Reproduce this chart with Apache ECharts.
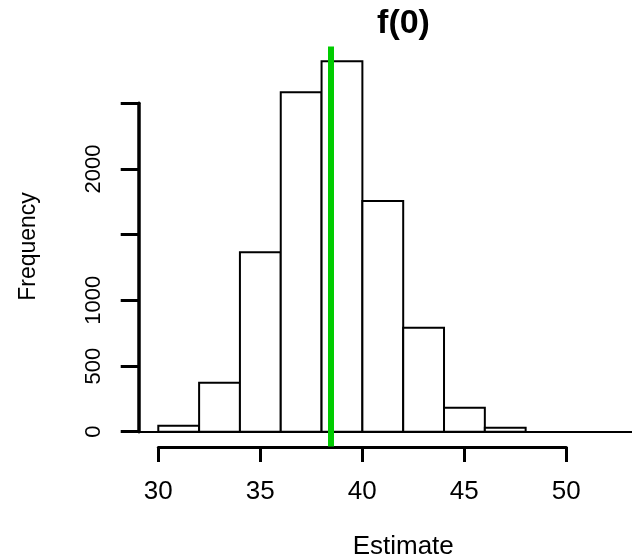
<!DOCTYPE html>
<html>
<head>
<meta charset="utf-8">
<script src="https://cdn.jsdelivr.net/npm/echarts@6/dist/echarts.min.js"></script>
<style>
html,body{margin:0;padding:0;background:#fff;}
#chart{width:632px;height:557px;}
</style>
</head>
<body>
<div id="chart"></div>
<script>
// ---- data ----
const binEdges = [30, 32, 34, 36, 38, 40, 42, 44, 46, 48];
const counts = [45, 373, 1366, 2584, 2820, 1757, 792, 183, 30];
const trueValue = 38.43;              // green vertical reference line
const xTicks = [30, 35, 40, 45, 50];
const yTicks = [0, 500, 1000, 1500, 2000, 2500];
const yTickLabels = ['0', '500', '1000', '', '2000', ''];
const xLimits = [30, 54];
const titleText = 'f(0)';
const xName = 'Estimate';
const yName = 'Frequency';

// histogram data for custom series
const histData = counts.map((c, i) => [binEdges[i], binEdges[i + 1], c]);

// R-style 4% axis extension
const xr = xLimits[1] - xLimits[0];
const xMin = xLimits[0] - 0.04 * xr, xMax = xLimits[1] + 0.04 * xr;
const yTop = Math.max(...counts);
const yMin = -0.04 * yTop, yMax = yTop * 1.04;

const FONT = 'Liberation Sans, Arial, sans-serif';
const chart = echarts.init(document.getElementById('chart'), null, {renderer: 'canvas'});

chart.setOption({
  animation: false,
  backgroundColor: '#fff',
  title: {
    text: titleText, left: 403.5, top: 7, textAlign: 'center', padding: 0,
    textStyle: {fontFamily: FONT, fontSize: 34, fontWeight: 'bold', color: '#000'}
  },
  grid: [
    {left: 138.7, top: 46.5, width: 529, height: 400, outerBoundsMode: 'none', containLabel: false},
    {left: 138.7, top: 103.35, width: 20, height: 328.35, outerBoundsMode: 'none', containLabel: false},
    {left: 158.3, top: 300, width: 408, height: 147, outerBoundsMode: 'none', containLabel: false}
  ],
  xAxis: [
    {gridIndex: 0, type: 'value', min: xMin, max: xMax,
     axisLine: {show: false}, axisTick: {show: false}, axisLabel: {show: false}, splitLine: {show: false},
     name: xName, nameLocation: 'middle', nameGap: 87,
     nameTextStyle: {fontFamily: FONT, fontSize: 26, color: '#000'}},
    {gridIndex: 1, type: 'value', show: false},
    {gridIndex: 2, type: 'value', min: xTicks[0], max: xTicks[xTicks.length - 1], interval: 5,
     axisLine: {show: true, lineStyle: {color: '#000', width: 3}},
     axisTick: {show: true, inside: false, length: 15, lineStyle: {color: '#000', width: 3}},
     axisLabel: {show: true, margin: 32, fontFamily: FONT, fontSize: 26, color: '#000'},
     splitLine: {show: false}}
  ],
  yAxis: [
    {gridIndex: 0, type: 'value', min: yMin, max: yMax,
     axisLine: {show: false}, axisTick: {show: false}, axisLabel: {show: false}, splitLine: {show: false},
     name: yName, nameLocation: 'middle', nameRotate: 90, nameGap: 99,
     nameTextStyle: {fontFamily: FONT, fontSize: 23, color: '#000'}},
    {gridIndex: 1, type: 'value', min: yTicks[0], max: yTicks[yTicks.length - 1], interval: 500,
     axisLine: {show: true, lineStyle: {color: '#000', width: 3.5}},
     axisTick: {show: true, inside: false, length: 18, lineStyle: {color: '#000', width: 3}},
     axisLabel: {show: true, rotate: 90, margin: 34, fontFamily: FONT, fontSize: 22, color: '#000',
       formatter: v => { const i = yTicks.indexOf(v); return i >= 0 ? yTickLabels[i] : ''; }},
     splitLine: {show: false}},
    {gridIndex: 2, type: 'value', show: false}
  ],
  series: [
    {
      type: 'custom', xAxisIndex: 0, yAxisIndex: 0,
      data: histData,
      encode: {x: [0, 1], y: 2},
      clip: false,
      renderItem: function (params, api) {
        const p0 = api.coord([api.value(0), 0]);
        const p1 = api.coord([api.value(1), api.value(2)]);
        return {
          type: 'rect',
          shape: {x: p0[0], y: p1[1], width: p1[0] - p0[0], height: p0[1] - p1[1]},
          style: {fill: '#fff', stroke: '#000', lineWidth: 2}
        };
      },
      markLine: {
        silent: true, symbol: 'none', animation: false,
        label: {show: false},
        data: [
          {yAxis: 0, lineStyle: {color: '#000', width: 2, type: 'solid'}},
          {xAxis: trueValue, lineStyle: {color: '#00cc00', width: 6, type: 'solid'}}
        ]
      },
      z: 2
    }
  ]
});
</script>
</body>
</html>
